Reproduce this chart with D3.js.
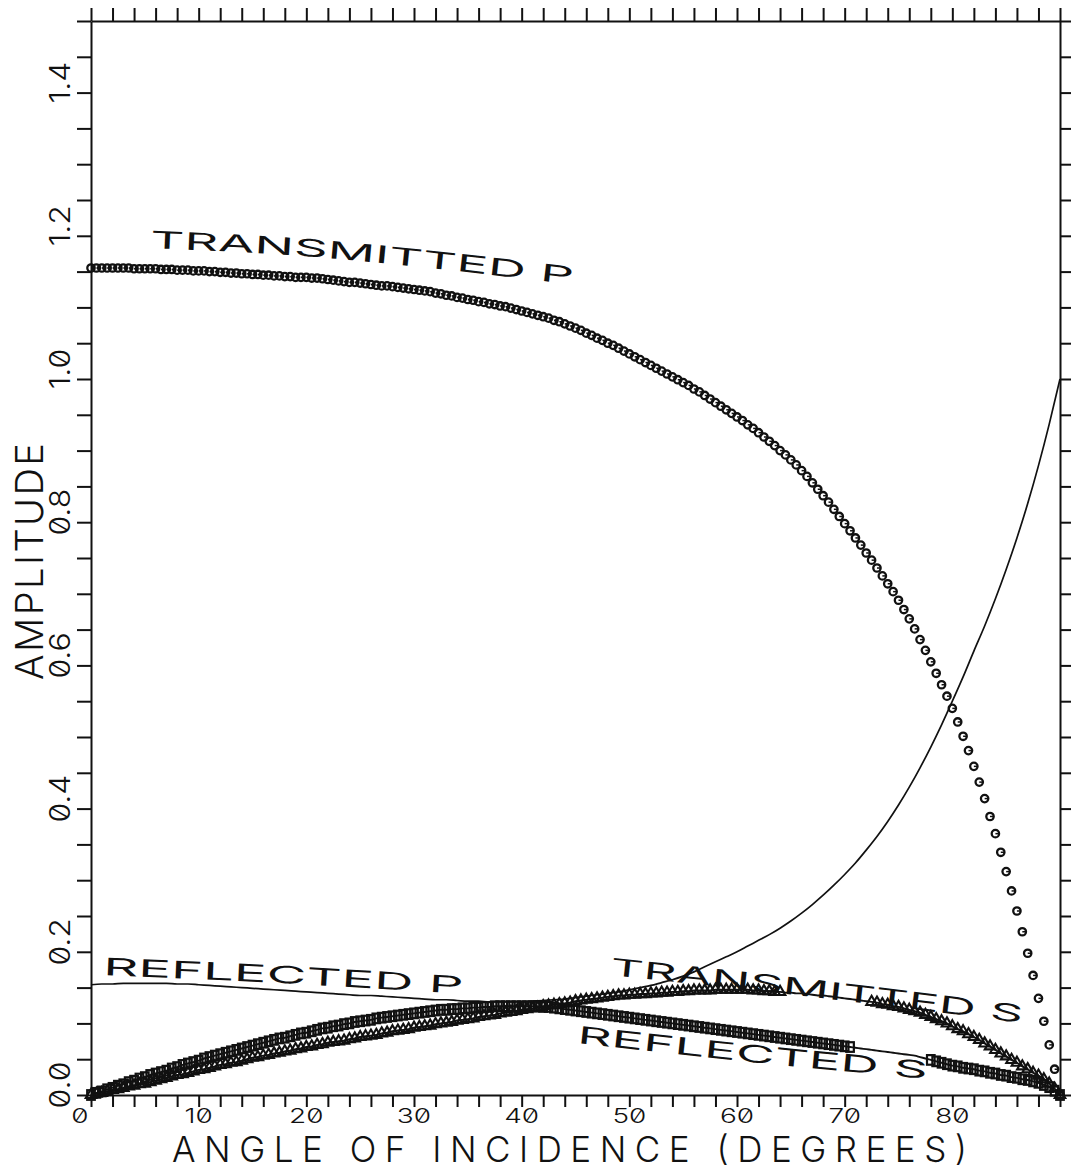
<!DOCTYPE html>
<html>
<head>
<meta charset="utf-8">
<script src="https://cdn.jsdelivr.net/npm/d3@7"></script>
<style>
  html, body { margin: 0; padding: 0; background: #fff; }
  svg { display: block; }
  text { font-family: Inter, "DejaVu Sans", sans-serif; font-feature-settings: "zero" 1; fill: #111; }
</style>
</head>
<body>
<svg id="chart" width="1071" height="1171"></svg>
<script>
// ---- data: amplitude of the four waves versus angle of incidence ----
const angles = d3.range(0, 90.0001, 0.5);          // 0.5 degree grid of the marked curves

const transmittedP = [
  1.155,1.155,1.155,1.155,1.155,1.155,1.155,1.155,1.154,1.154,
  1.154,1.154,1.154,1.153,1.153,1.153,1.152,1.152,1.152,1.151,
  1.151,1.151,1.150,1.150,1.149,1.149,1.148,1.148,1.147,1.147,
  1.146,1.146,1.145,1.145,1.144,1.144,1.143,1.143,1.142,1.142,
  1.142,1.141,1.141,1.140,1.139,1.138,1.137,1.136,1.135,1.135,
  1.134,1.133,1.132,1.131,1.130,1.130,1.129,1.128,1.127,1.126,
  1.125,1.124,1.123,1.122,1.120,1.119,1.117,1.116,1.114,1.113,
  1.111,1.110,1.108,1.107,1.105,1.104,1.102,1.101,1.099,1.097,
  1.095,1.093,1.091,1.089,1.087,1.085,1.082,1.080,1.077,1.074,
  1.071,1.068,1.064,1.061,1.057,1.054,1.050,1.047,1.043,1.039,
  1.035,1.031,1.027,1.023,1.019,1.015,1.011,1.007,1.003,0.999,
  0.995,0.991,0.986,0.982,0.977,0.972,0.967,0.962,0.957,0.952,
  0.947,0.942,0.936,0.931,0.925,0.919,0.913,0.907,0.900,0.894,
  0.887,0.880,0.872,0.864,0.855,0.846,0.837,0.828,0.818,0.808,
  0.798,0.788,0.778,0.768,0.757,0.747,0.736,0.725,0.714,0.703,
  0.691,0.678,0.665,0.651,0.636,0.621,0.605,0.589,0.573,0.557,
  0.540,0.521,0.501,0.481,0.459,0.437,0.414,0.389,0.365,0.339,
  0.312,0.285,0.257,0.228,0.198,0.167,0.135,0.103,0.070,0.036,
  0.000
];

const transmittedS = [
  0.000,0.002,0.003,0.005,0.007,0.008,0.010,0.012,0.013,0.015,
  0.016,0.018,0.020,0.022,0.024,0.026,0.028,0.029,0.031,0.033,
  0.035,0.036,0.038,0.040,0.042,0.043,0.045,0.046,0.048,0.050,
  0.052,0.053,0.055,0.056,0.058,0.059,0.061,0.062,0.064,0.065,
  0.067,0.068,0.070,0.071,0.073,0.074,0.075,0.076,0.078,0.079,
  0.081,0.082,0.083,0.084,0.086,0.087,0.089,0.090,0.091,0.092,
  0.094,0.095,0.096,0.097,0.099,0.100,0.101,0.102,0.104,0.105,
  0.106,0.107,0.109,0.110,0.111,0.112,0.114,0.115,0.116,0.117,
  0.119,0.120,0.121,0.122,0.124,0.125,0.126,0.127,0.128,0.129,
  0.131,0.132,0.133,0.134,0.135,0.136,0.137,0.138,0.139,0.139,
  0.140,0.140,0.141,0.141,0.142,0.142,0.143,0.143,0.144,0.144,
  0.145,0.145,0.146,0.146,0.146,0.146,0.147,0.147,0.147,0.147,
  0.147,0.147,0.147,0.146,0.146,0.145,0.145,0.144,0.144,0.143,
  0.143,0.142,0.142,0.141,0.140,0.139,0.139,0.138,0.137,0.136,
  0.135,0.134,0.133,0.132,0.131,0.130,0.129,0.127,0.126,0.124,
  0.123,0.121,0.119,0.117,0.115,0.112,0.109,0.106,0.103,0.100,
  0.096,0.092,0.089,0.085,0.081,0.077,0.072,0.068,0.063,0.058,
  0.054,0.049,0.045,0.040,0.036,0.031,0.027,0.022,0.016,0.009,
  0.000
];

const reflectedS = [
  0.000,0.003,0.005,0.008,0.010,0.013,0.015,0.018,0.020,0.023,
  0.025,0.028,0.030,0.032,0.034,0.037,0.039,0.042,0.044,0.046,
  0.048,0.051,0.053,0.055,0.057,0.059,0.061,0.063,0.065,0.067,
  0.069,0.071,0.073,0.075,0.077,0.079,0.080,0.082,0.084,0.086,
  0.087,0.089,0.091,0.093,0.094,0.096,0.097,0.099,0.100,0.102,
  0.103,0.104,0.105,0.107,0.108,0.109,0.110,0.111,0.112,0.113,
  0.114,0.115,0.116,0.117,0.118,0.119,0.119,0.120,0.120,0.121,
  0.121,0.122,0.122,0.123,0.123,0.124,0.124,0.124,0.124,0.124,
  0.124,0.124,0.124,0.124,0.123,0.123,0.122,0.121,0.120,0.119,
  0.118,0.117,0.116,0.115,0.114,0.113,0.112,0.111,0.110,0.109,
  0.108,0.107,0.106,0.105,0.104,0.103,0.102,0.101,0.100,0.099,
  0.098,0.097,0.096,0.095,0.094,0.093,0.092,0.091,0.090,0.089,
  0.088,0.087,0.086,0.085,0.084,0.083,0.082,0.081,0.080,0.079,
  0.078,0.077,0.076,0.075,0.074,0.073,0.072,0.071,0.070,0.069,
  0.068,0.067,0.066,0.065,0.064,0.063,0.062,0.061,0.060,0.059,
  0.058,0.057,0.056,0.055,0.053,0.051,0.049,0.047,0.045,0.043,
  0.041,0.040,0.038,0.037,0.036,0.034,0.033,0.031,0.030,0.028,
  0.027,0.025,0.024,0.022,0.021,0.019,0.017,0.014,0.011,0.006,
  0.000
];

const reflectedPAngles = d3.range(0, 90.0001, 1);  // 1 degree grid of the plain curve
const reflectedP = [
  0.154,0.155,0.155,0.156,0.156,0.156,0.156,0.156,0.155,0.155,
  0.154,0.153,0.152,0.151,0.150,0.149,0.148,0.147,0.146,0.145,
  0.144,0.143,0.142,0.141,0.140,0.139,0.139,0.138,0.137,0.136,
  0.135,0.134,0.133,0.133,0.132,0.131,0.131,0.130,0.130,0.130,
  0.130,0.131,0.132,0.133,0.134,0.136,0.138,0.140,0.142,0.144,
  0.147,0.150,0.153,0.157,0.161,0.166,0.172,0.179,0.186,0.193,
  0.200,0.208,0.216,0.224,0.233,0.243,0.254,0.266,0.279,0.293,
  0.308,0.324,0.342,0.361,0.382,0.405,0.430,0.457,0.486,0.517,
  0.550,0.584,0.620,0.655,0.693,0.734,0.778,0.826,0.879,0.937,
  1.000
];

// angular stretches where the symbols give way to the curve label
const transmittedSSymbolGap = [64, 72.5];
const reflectedSSymbolGap = [70.5, 78];

// axis ticks and labels
const xMinorTicks = d3.range(0, 90.0001, 2);
const xTickLabels = [0, 10, 20, 30, 40, 50, 60, 70, 80];
const yMinorTicks = d3.range(0, 1.5001, 0.05);
const yTickLabels = [0, 0.2, 0.4, 0.6, 0.8, 1.0, 1.2, 1.4];
const xTitle = "ANGLE OF INCIDENCE (DEGREES)";
const yTitle = "AMPLITUDE";

// curve labels: text plus baseline guide points in (angle, amplitude)
const curveLabels = [
  { text: "TRANSMITTED P", guide: [[5.48, 1.183], [19.41, 1.172], [31.48, 1.155], [44.75, 1.132]] },
  { text: "REFLECTED P",   guide: [[1.11, 0.1676], [17.55, 0.1564], [34.54, 0.1411]] },
  { text: "TRANSMITTED S", guide: [[48.19, 0.1676], [61.19, 0.1466], [73.26, 0.1257], [86.45, 0.1006]] },
  { text: "REFLECTED S",   guide: [[45.12, 0.0726], [61.19, 0.0461], [77.63, 0.0223]] }
];

// ---- layout ----
const svg = d3.select("#chart");
const frame = { left: 91, right: 1060, top: 21, bottom: 1095 };
const x = d3.scaleLinear().domain([0, 90]).range([frame.left, frame.right]);
const y = d3.scaleLinear().domain([0, 1.5]).range([frame.bottom, frame.top]);
const ink = "#111";

// ---- frame with outward ticks on all four sides ----
function styleAxis(g) {
  g.selectAll("path, line").attr("stroke", ink).attr("stroke-width", 2);
  g.selectAll("text").remove();
}
svg.append("g").attr("transform", `translate(${frame.left},0)`)
  .call(d3.axisLeft(y).tickValues(yMinorTicks).tickSizeInner(14).tickSizeOuter(0).tickFormat(""))
  .call(styleAxis);
svg.append("g").attr("transform", `translate(${frame.right},0)`)
  .call(d3.axisRight(y).tickValues(yMinorTicks).tickSizeInner(12).tickSizeOuter(0).tickFormat(""))
  .call(styleAxis);
svg.append("g").attr("transform", `translate(0,${frame.top})`)
  .call(d3.axisTop(x).tickValues(xMinorTicks).tickSizeInner(13).tickSizeOuter(0).tickFormat(""))
  .call(styleAxis);
svg.append("g").attr("transform", `translate(0,${frame.bottom})`)
  .call(d3.axisBottom(x).tickValues(xMinorTicks).tickSizeInner(12).tickSizeOuter(0).tickFormat(""))
  .call(styleAxis);

// ---- tick labels ----
svg.append("g").selectAll("text").data(xTickLabels).join("text")
  .attr("transform", d => `translate(${x(d) + (d === 0 ? -11 : 0)},1123) scale(1.4,1)`)
  .attr("text-anchor", "middle")
  .style("font-size", "20px").style("font-weight", 300)
  .text(d => d3.format("d")(d));

svg.append("g").selectAll("text").data(yTickLabels).join("text")
  .attr("transform", d => `translate(70,${y(d) - 10}) rotate(-90) scale(1.1,1)`)
  .attr("text-anchor", "middle")
  .style("font-size", "29px").style("font-weight", 300)
  .text(d => d3.format(".1f")(d));

// ---- axis titles ----
svg.append("text")
  .attr("x", 172).attr("y", 1162)
  .attr("textLength", 795).attr("lengthAdjust", "spacing")
  .style("font-size", "35px").style("font-weight", 300)
  .text(xTitle);

svg.append("text")
  .attr("transform", "translate(43,680) rotate(-90)")
  .attr("textLength", 237).attr("lengthAdjust", "spacing")
  .style("font-size", "38px").style("font-weight", 300)
  .text(yTitle);

// ---- curves ----
const plot = svg.append("g");

const seriesLine = d3.line().x(d => x(d[0])).y(d => y(d[1])).curve(d3.curveMonotoneX);

// reflected P: plain line
plot.append("path")
  .datum(reflectedPAngles.map((a, i) => [a, reflectedP[i]]))
  .attr("d", seriesLine)
  .attr("fill", "none").attr("stroke", ink).attr("stroke-width", 1.7);

// thin pen line under the S-wave symbols
[transmittedS, reflectedS].forEach(vals => {
  plot.append("path")
    .datum(angles.map((a, i) => [a, vals[i]]))
    .attr("d", seriesLine)
    .attr("fill", "none").attr("stroke", ink).attr("stroke-width", 1.9);
});

const outsideGap = gap => d => !(d[0] > gap[0] && d[0] < gap[1]);

// reflected S: squares
plot.append("g").selectAll("rect")
  .data(angles.map((a, i) => [a, reflectedS[i]]).filter(outsideGap(reflectedSSymbolGap)))
  .join("rect")
  .attr("x", d => x(d[0]) - 3.8).attr("y", d => y(d[1]) - 4.8)
  .attr("width", 7.6).attr("height", 9.6)
  .attr("fill", "none").attr("stroke", ink).attr("stroke-width", 2.2);

// transmitted S: triangles
const tri = d3.symbol().type(d3.symbolTriangle).size(48);
plot.append("g").selectAll("path")
  .data(angles.map((a, i) => [a, transmittedS[i]]).filter(outsideGap(transmittedSSymbolGap)))
  .join("path")
  .attr("d", tri)
  .attr("transform", d => `translate(${x(d[0])},${y(d[1])})`)
  .attr("fill", "none").attr("stroke", ink).attr("stroke-width", 2.1);

// transmitted P: pen circles
const circ = plot.append("g").selectAll("g")
  .data(angles.map((a, i) => [a, transmittedP[i]]))
  .join("g")
  .attr("transform", d => `translate(${x(d[0])},${y(d[1])})`);
circ.append("circle").attr("r", 3.7)
  .attr("fill", "none").attr("stroke", ink).attr("stroke-width", 2.3);
circ.append("line").attr("x1", 0).attr("y1", 0).attr("x2", 3.7).attr("y2", 0)
  .attr("stroke", ink).attr("stroke-width", 1.5);

// ---- curve labels laid along their guides ----
function labelAlong(g, str, guide, size) {
  const pts = guide.map(([a, v]) => [x(a), y(v)]);
  const path = g.append("path")
    .attr("d", d3.line().curve(d3.curveCatmullRom)(pts))
    .attr("fill", "none").attr("stroke", "none");
  const node = path.node();
  const L = node.getTotalLength();
  const probe = g.append("text").style("font-size", size + "px").style("font-weight", 400);
  const chars = [...str];
  const adv = chars.map(ch => { probe.text(ch === " " ? "\u00a0" : ch); return probe.node().getComputedTextLength(); });
  probe.remove();
  const k = L / d3.sum(adv);
  let s = 0;
  chars.forEach((ch, i) => {
    const mid = (s + adv[i] / 2) * k;
    s += adv[i];
    if (ch === " ") return;
    const p = node.getPointAtLength(mid);
    const p0 = node.getPointAtLength(Math.max(0, mid - 3));
    const p1 = node.getPointAtLength(Math.min(L, mid + 3));
    const ang = Math.atan2(p1.y - p0.y, p1.x - p0.x) * 180 / Math.PI;
    g.append("text")
      .attr("transform", `translate(${p.x},${p.y}) rotate(${ang}) scale(${k},1)`)
      .attr("text-anchor", "middle")
      .style("font-size", size + "px").style("font-weight", 400)
      .text(ch);
  });
}
const labelLayer = svg.append("g");
curveLabels.forEach(lb => labelAlong(labelLayer, lb.text, lb.guide, 24));
</script>
</body>
</html>
